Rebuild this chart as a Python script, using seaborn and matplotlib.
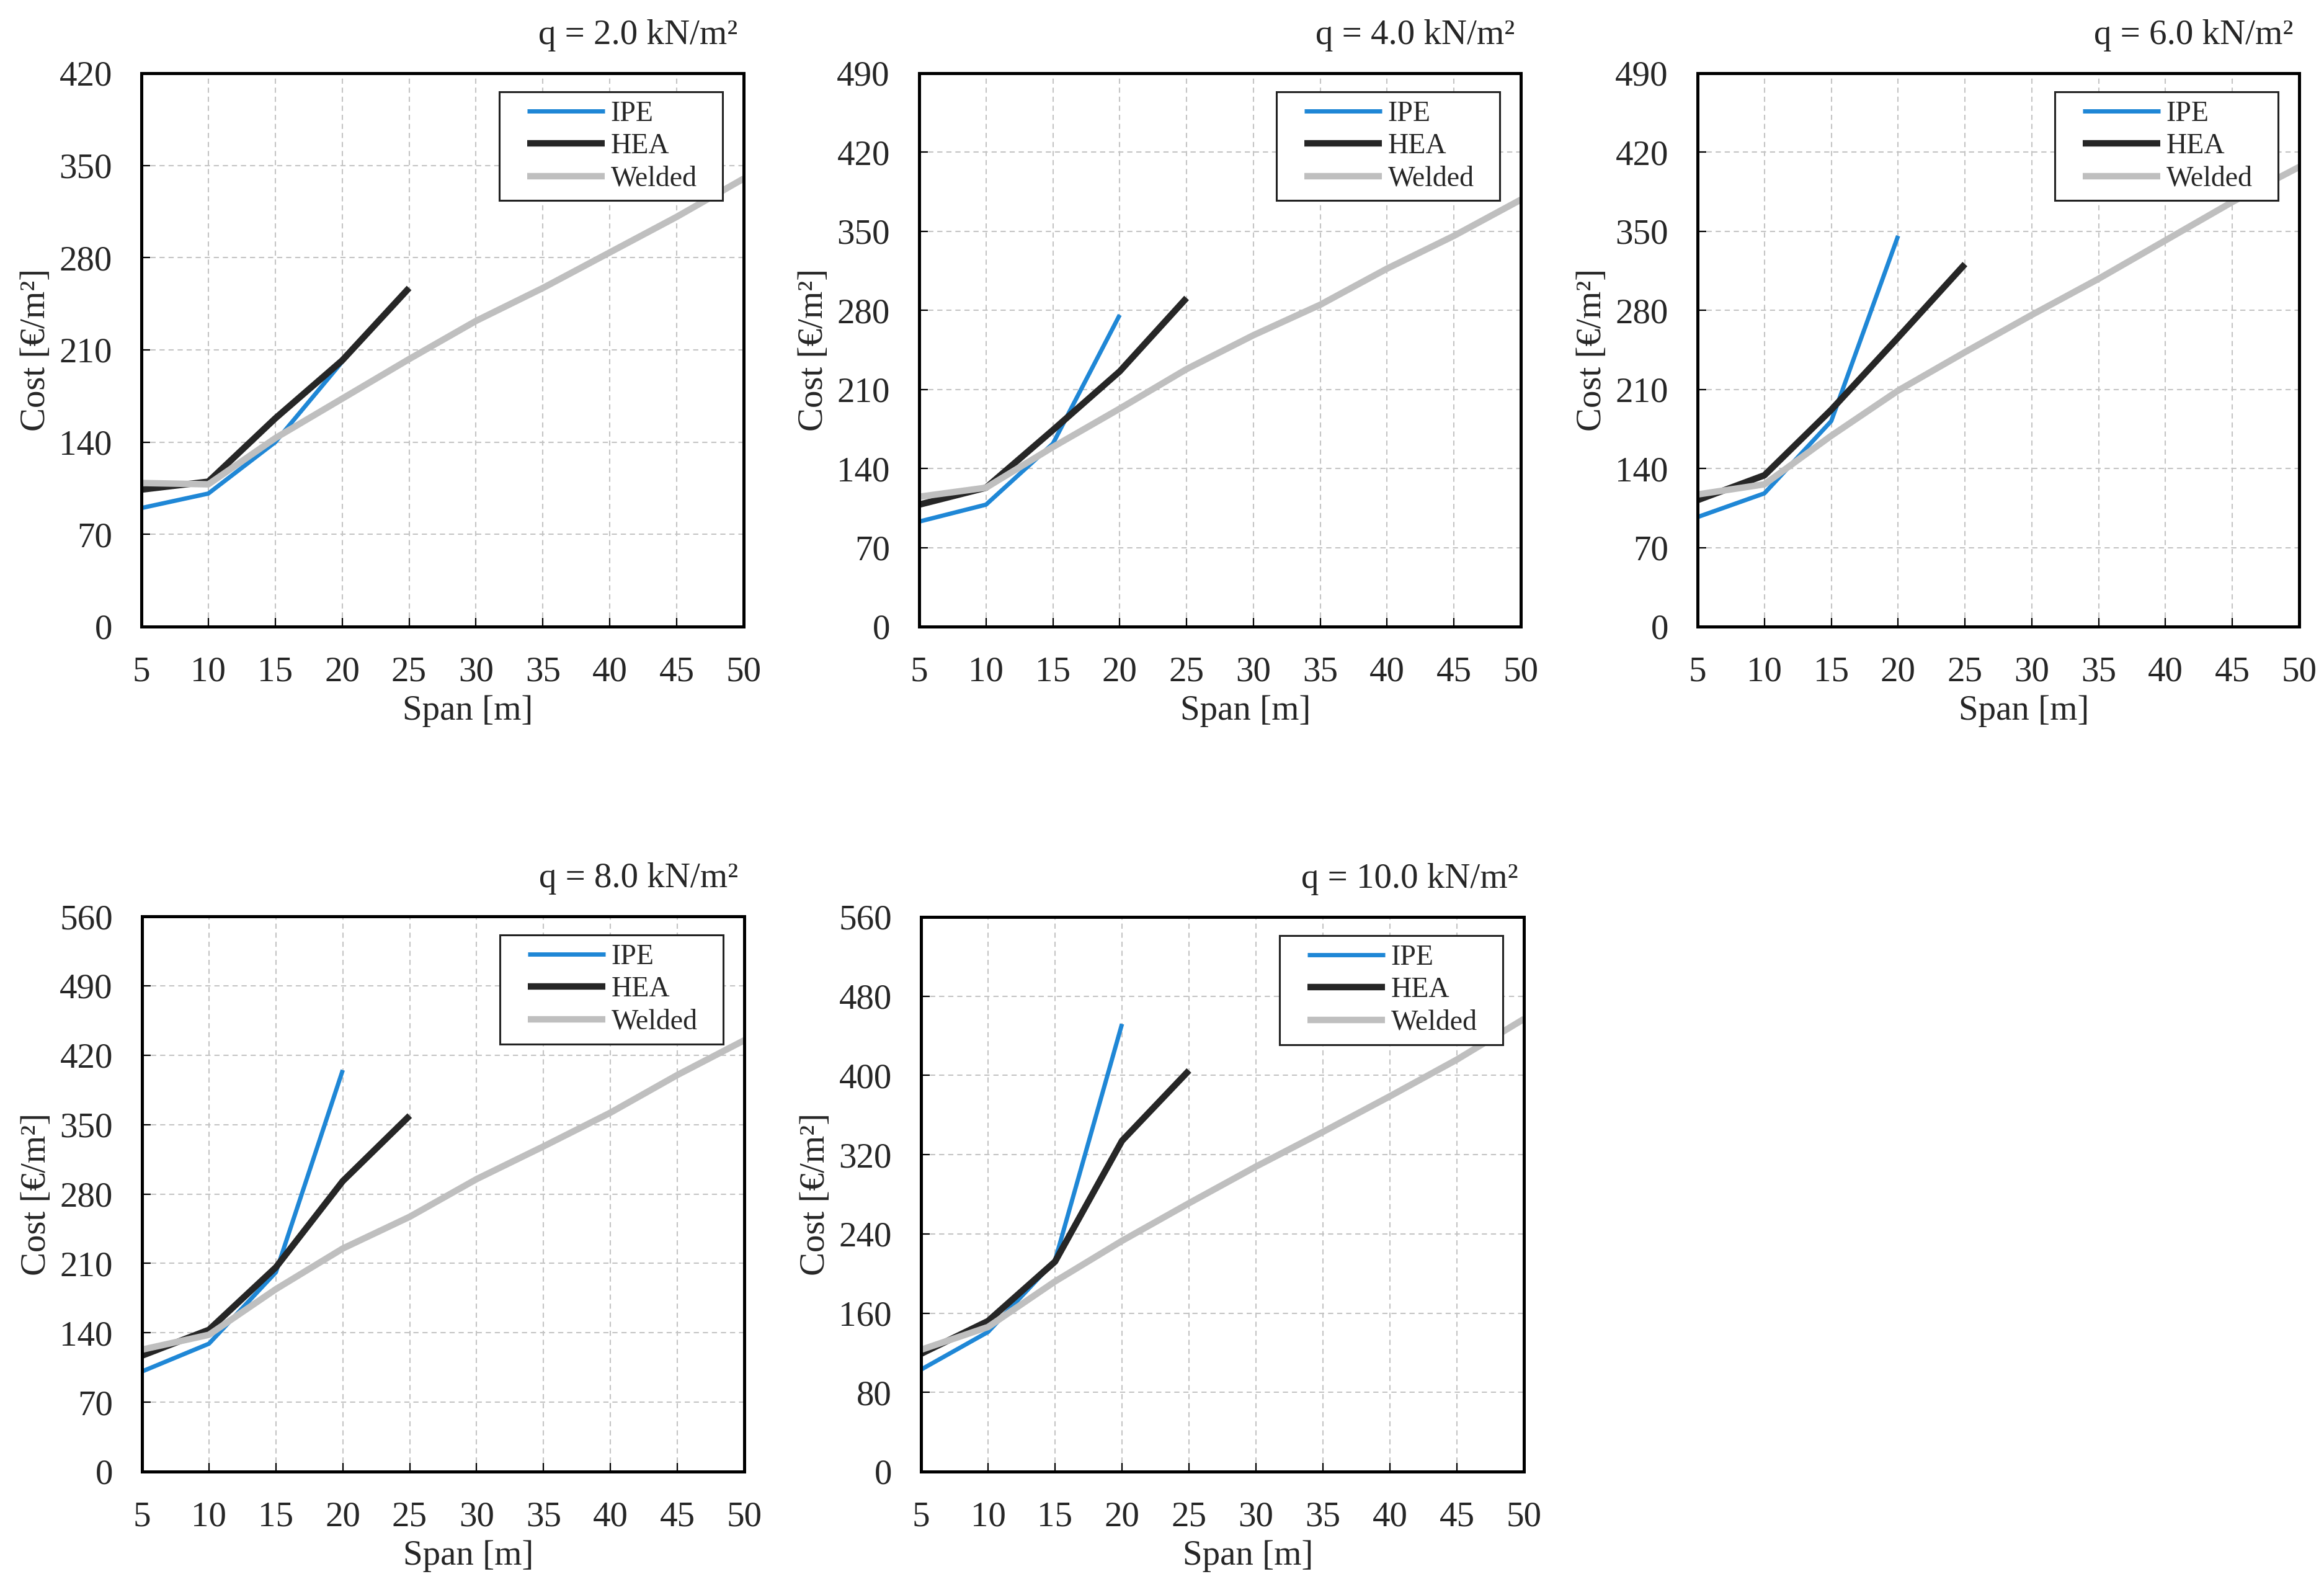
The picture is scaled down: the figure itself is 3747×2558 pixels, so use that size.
import numpy as np
import pandas as pd
import matplotlib
matplotlib.use("Agg")
import matplotlib.pyplot as plt
from matplotlib.legend_handler import HandlerLine2D
import seaborn as sns

# ---------------- data ----------------
span_short = [5, 10, 15, 20]
span_hea = [5, 10, 15, 20, 25]
span_welded = [5, 10, 15, 20, 25, 30, 35, 40, 45, 50]

loads = ["2.0", "4.0", "6.0", "8.0", "10.0"]

ipe_q2 = [90, 101, 140, 201]
hea_q2 = [104, 110, 158, 202, 257]
welded_q2 = [109, 108, 143, 173, 203, 232, 257, 284, 311, 340]

ipe_q4 = [93, 108, 162, 276]
hea_q4 = [108, 123, 174, 226, 291]
welded_q4 = [115, 123, 159, 193, 228, 258, 285, 317, 346, 378]

ipe_q6 = [97, 118, 182, 346]
hea_q6 = [112, 134, 192, 256, 321]
welded_q6 = [117, 126, 169, 209, 243, 276, 308, 342, 376, 407]

ipe_q8 = [101, 129, 201, 405]
hea_q8 = [117, 143, 206, 293, 359]
welded_q8 = [123, 138, 184, 225, 257, 295, 328, 362, 400, 435]

ipe_q10 = [103, 141, 213, 452]
hea_q10 = [119, 152, 212, 334, 405]
welded_q10 = [123, 146, 192, 233, 271, 308, 343, 379, 416, 457]

y_max = [420, 490, 490, 560, 560]
y_step = [70, 70, 70, 70, 80]
x_ticks = [5, 10, 15, 20, 25, 30, 35, 40, 45, 50]

series_names = ["IPE", "HEA", "Welded"]
colors = {"IPE": "#1f87d6", "HEA": "#262626", "Welded": "#bfbfbf"}
widths = {"IPE": 5.0, "HEA": 7.5, "Welded": 7.5}

panels = [
    (ipe_q2, hea_q2, welded_q2),
    (ipe_q4, hea_q4, welded_q4),
    (ipe_q6, hea_q6, welded_q6),
    (ipe_q8, hea_q8, welded_q8),
    (ipe_q10, hea_q10, welded_q10),
]


class PaddedLineHandler(HandlerLine2D):
    """Legend line handle with an empty lead-in on its left side."""
    lead = 0.2

    def create_artists(self, legend, orig_handle, xdescent, ydescent,
                       width, height, fontsize, trans):
        shift = width * self.lead
        return super().create_artists(legend, orig_handle, xdescent - shift,
                                      ydescent, width - shift, height,
                                      fontsize, trans)


# ---------------- style ----------------
sns.set_style("white")
plt.rcParams["font.family"] = ["Liberation Serif", "DejaVu Serif"]
plt.rcParams["axes.unicode_minus"] = False

W, H = 3748, 2558
DPI = 100
fig = plt.figure(figsize=(W / DPI, H / DPI), dpi=DPI)

# axes boxes in pixels: (left, top, right, bottom)
boxes_px = [
    (228, 118, 1199, 1010),
    (1482, 118, 2452, 1010),
    (2737, 118, 3707, 1010),
    (229, 1477, 1200, 2372),
    (1485, 1478, 2457, 2372),
]

FS = 41
LEG_FS = 33

for i, (ipe, hea, wel) in enumerate(panels):
    l, t, r, b = boxes_px[i]
    ax = fig.add_axes([l / W, 1 - b / H, (r - l) / W, (b - t) / H])

    frames = [
        pd.DataFrame({"Span": span_short, "Cost": ipe, "Section": "IPE"}),
        pd.DataFrame({"Span": span_hea, "Cost": hea, "Section": "HEA"}),
        pd.DataFrame({"Span": span_welded, "Cost": wel, "Section": "Welded"}),
    ]
    for df in frames:
        name = df["Section"].iloc[0]
        sns.lineplot(data=df, x="Span", y="Cost", ax=ax, color=colors[name],
                     linewidth=widths[name], label=name, zorder=3,
                     solid_capstyle="butt", solid_joinstyle="round")

    ax.set_xlim(5, 50)
    ax.set_ylim(0, y_max[i])
    ax.set_xticks(x_ticks)
    ax.set_yticks(np.arange(0, y_max[i] + 1, y_step[i]))
    ax.grid(True, color="#c4c4c4", linestyle=(0, (4, 3)), linewidth=1.5, zorder=0)
    ax.set_axisbelow(True)
    for s in ax.spines.values():
        s.set_visible(True)
        s.set_color("black")
        s.set_linewidth(3.6)
        s.set_zorder(5)
    ax.tick_params(axis="both", which="major", direction="in", length=10,
                   width=1.6, color="black", labelsize=FS, pad=34,
                   top=False, right=False, bottom=True, left=True)
    ax.set_xlabel("Span [m]", fontsize=FS, labelpad=8, x=0.542)
    ax.set_ylabel("Cost [€/m²]", fontsize=FS, labelpad=8)
    ax.set_title(f"q = {loads[i]} kN/m²", loc="right", fontsize=FS, pad=34,
                 x=0.99)

    handles, labels = ax.get_legend_handles_labels()
    box_w = 360 / (r - l)
    box_x0 = 0.965 - box_w
    leg = ax.legend(handles, labels, loc="upper right",
                    bbox_to_anchor=(box_x0, 0.5, box_w, 0.466),
                    mode="expand", borderaxespad=0, fontsize=LEG_FS,
                    frameon=True, fancybox=False, framealpha=1,
                    edgecolor="#222222", handlelength=3.4, handletextpad=0.22,
                    labelspacing=0.22, borderpad=0.3,
                    handler_map={h: PaddedLineHandler() for h in handles})
    leg.get_frame().set_linewidth(2.2)
    leg.set_zorder(10)

fig.savefig("out.png", dpi=DPI, facecolor="white")
